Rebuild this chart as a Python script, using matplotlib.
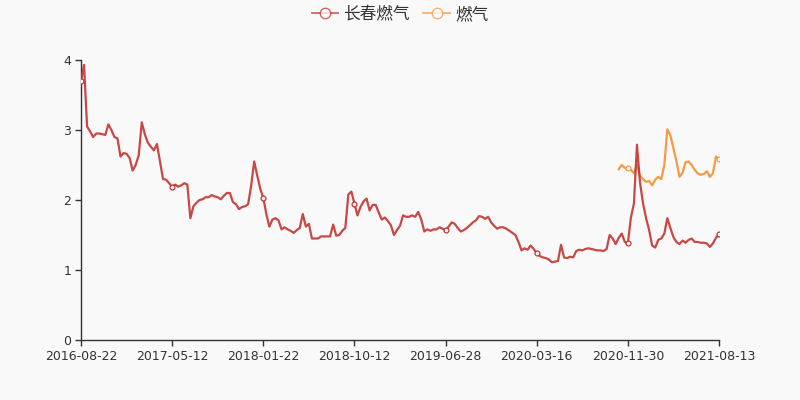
import numpy as np
import matplotlib
matplotlib.use("Agg")
import matplotlib.pyplot as plt
from matplotlib.lines import Line2D

plt.rcParams['font.family'] = ['DejaVu Sans', 'Noto Sans CJK SC']

tick_labels = ["2016-08-22", "2017-05-12", "2018-01-22", "2018-10-12",
               "2019-06-28", "2020-03-16", "2020-11-30", "2021-08-13"]
tick_step = 30

changchun = [
    3.70, 3.93, 3.05, 2.98, 2.90, 2.95, 2.95, 2.94, 2.93, 3.08,
    3.00, 2.90, 2.88, 2.62, 2.67, 2.66, 2.60, 2.42, 2.50, 2.64,
    3.11, 2.94, 2.82, 2.76, 2.71, 2.80, 2.55, 2.30, 2.29, 2.24,
    2.19, 2.22, 2.19, 2.21, 2.24, 2.22, 1.74, 1.91, 1.96, 2.00,
    2.01, 2.04, 2.04, 2.07, 2.05, 2.04, 2.01, 2.06, 2.10, 2.10,
    1.97, 1.94, 1.87, 1.90, 1.91, 1.94, 2.20, 2.55, 2.35, 2.16,
    2.03, 1.80, 1.62, 1.72, 1.74, 1.71, 1.58, 1.61, 1.58, 1.56,
    1.53, 1.57, 1.60, 1.80, 1.62, 1.66, 1.45, 1.45, 1.45, 1.48,
    1.48, 1.48, 1.48, 1.65, 1.49, 1.50, 1.56, 1.60, 2.08, 2.12,
    1.95, 1.78, 1.90, 1.98, 2.02, 1.85, 1.93, 1.93, 1.82, 1.72,
    1.75, 1.70, 1.64, 1.50, 1.57, 1.63, 1.78, 1.76, 1.76, 1.78,
    1.76, 1.83, 1.72, 1.55, 1.58, 1.56, 1.58, 1.58, 1.61, 1.59,
    1.57, 1.62, 1.68, 1.66, 1.60, 1.55, 1.57, 1.60, 1.64, 1.68,
    1.71, 1.77, 1.76, 1.73, 1.76, 1.68, 1.63, 1.59, 1.61, 1.61,
    1.59, 1.56, 1.53, 1.50, 1.40, 1.28, 1.31, 1.29, 1.35, 1.30,
    1.24, 1.20, 1.18, 1.17, 1.15, 1.11, 1.12, 1.13, 1.36, 1.18,
    1.17, 1.19, 1.18, 1.27, 1.29, 1.28, 1.30, 1.31, 1.30, 1.29,
    1.28, 1.28, 1.27, 1.30, 1.50, 1.45, 1.37, 1.46, 1.52, 1.40,
    1.38, 1.75, 1.95, 2.79, 2.25, 1.95, 1.74, 1.57, 1.35, 1.32,
    1.43, 1.45, 1.52, 1.74, 1.60, 1.47, 1.40, 1.37, 1.42, 1.39,
    1.43, 1.45, 1.40, 1.40, 1.39, 1.39, 1.38, 1.33, 1.38, 1.46,
    1.51,
]

gas_start = 177
gas = [
    2.44, 2.50, 2.46, 2.46, 2.43, 2.38, 2.50, 2.34, 2.30, 2.26,
    2.27, 2.21, 2.29, 2.33, 2.30, 2.50, 3.01, 2.92, 2.74, 2.55,
    2.33, 2.39, 2.54, 2.55, 2.50, 2.43, 2.38, 2.36, 2.37, 2.41,
    2.33, 2.38, 2.62, 2.58,
]

red = '#c23531'
orange = '#f59a45'
bg = '#f9f9f9'

n = len(changchun)
x = np.arange(n)
gas_full = np.full(n, np.nan)
gas_full[gas_start:gas_start + len(gas)] = gas

fig = plt.figure(figsize=(8, 4), dpi=100, facecolor=bg)
ax = fig.add_axes([81/800, 60/400, 638/800, 280/400], facecolor=bg)

tick_idx = np.arange(0, n, tick_step)

ax.plot(x, changchun, color=red, lw=1.6, alpha=0.9, zorder=3)
ax.plot(x, gas_full, color=orange, lw=1.6, zorder=2)
ax.plot(tick_idx, np.array(changchun)[tick_idx], ls='none', marker='o', ms=3.5,
        mfc='white', mec=red, mew=0.9, zorder=4)
gi = [i for i in tick_idx if not np.isnan(gas_full[i])]
ax.plot(gi, gas_full[gi], ls='none', marker='o', ms=3.5,
        mfc='white', mec=orange, mew=0.9, zorder=4)

ax.set_xlim(0, n - 1)
ax.set_ylim(0, 4)
ax.set_yticks([0, 1, 2, 3, 4])
ax.set_xticks(tick_idx)
ax.set_xticklabels(tick_labels)
for s in ['top', 'right']:
    ax.spines[s].set_visible(False)
for s in ['left', 'bottom']:
    ax.spines[s].set_color('#333333')
    ax.spines[s].set_linewidth(1.0)
ax.tick_params(axis='both', colors='#333333', labelsize=9, length=4, width=1,
               direction='out', pad=3)

handles = [
    Line2D([0], [0], color=red, lw=1.3, alpha=0.75, marker='o', ms=7.5,
           mfc='white', mec=red, mew=1),
    Line2D([0], [0], color=orange, lw=1.3, alpha=0.75, marker='o', ms=7.5,
           mfc='white', mec=orange, mew=1),
]
leg = fig.legend(handles, ['长春燃气', '燃气'], loc='upper center',
                 bbox_to_anchor=(0.5, 1.022), ncol=2, frameon=False,
                 prop={'family': ['Noto Sans CJK SC', 'DejaVu Sans'], 'size': 12},
                 handlelength=1.6, handletextpad=0.3, columnspacing=0.8)
for t in leg.get_texts():
    t.set_color('#333333')

fig.savefig('out.png', dpi=100, facecolor=bg)
